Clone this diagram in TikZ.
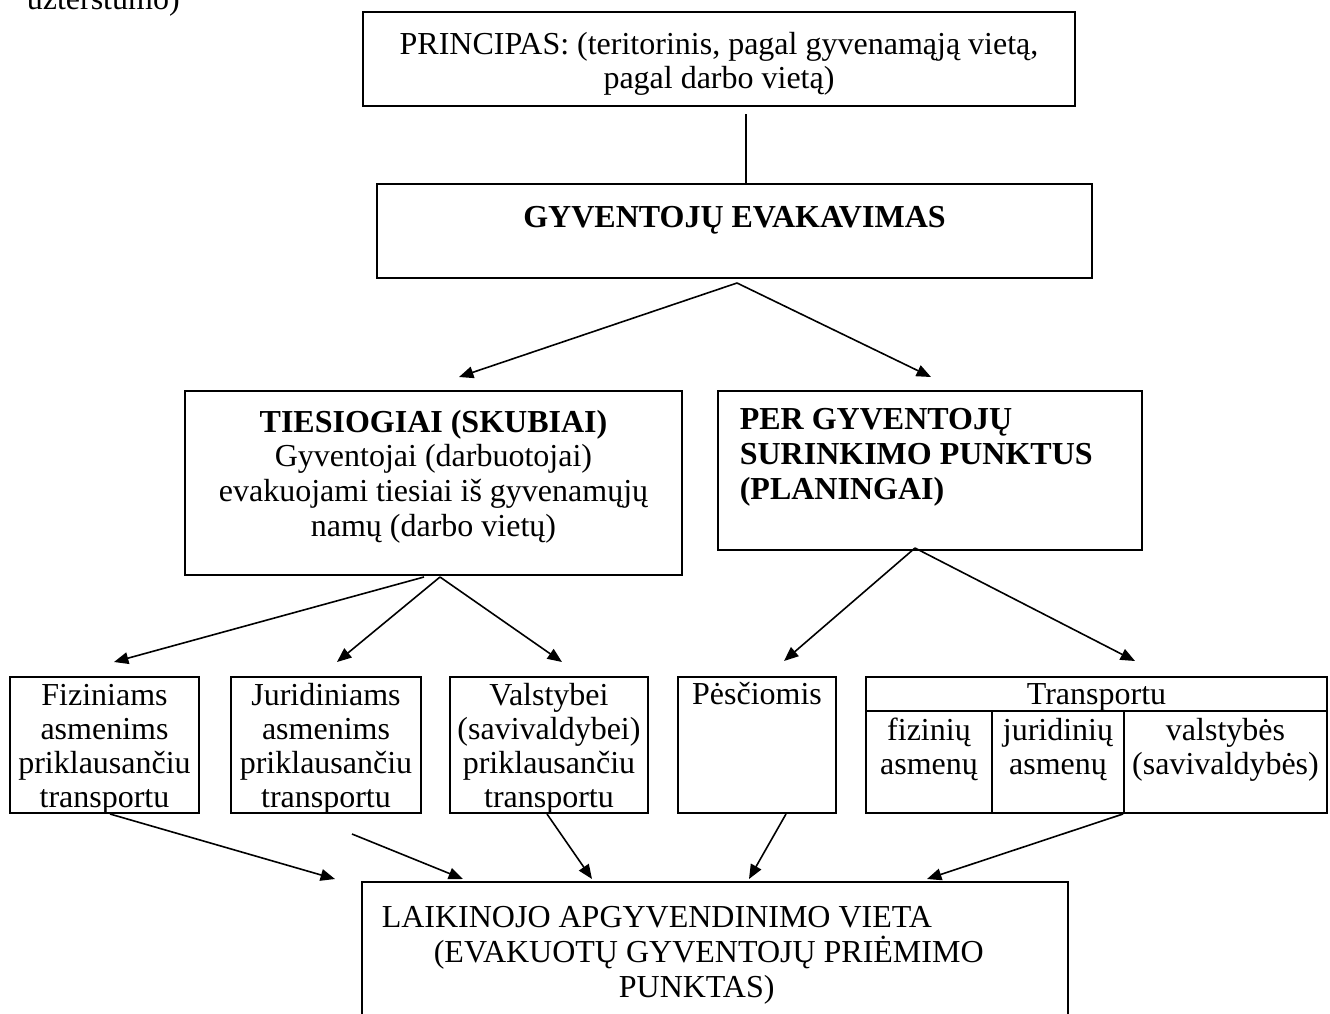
\documentclass[tikz,border=0pt]{standalone}
\usepackage{fontspec}
\setmainfont{Liberation Serif}
\usetikzlibrary{arrows.meta,positioning}

\begin{document}
\begin{tikzpicture}[x=0.375pt, y=-0.375pt, ->, >={Triangle[length=5.4pt,width=4.4pt]}, line width=0.6pt,
		font=\fontsize{12pt}{13pt}\selectfont,
		sz/.style 2 args={minimum width=#1*0.375pt, minimum height=#2*0.375pt}]
				\tikzstyle{box} = [draw, rectangle, line width=0.75pt, inner sep=0pt]
				\tikzstyle{txt} = [inner sep=0pt, align=center]
				\tikzstyle{tight} = [txt, font=\fontsize{12pt}{12.75pt}\selectfont]
				\fill[white,-] (0,0) rectangle (1330,1014);
				\useasboundingbox (0,0) rectangle (1330,1014);
				
				\node[anchor=base west, inner sep=0pt] (note) at (26,9) {užterštumo)};
				
				\node[box, sz={712}{94}] (princ) at (719,59) {};
				\node[txt, anchor=north] (princT) at (719,31) {PRINCIPAS: (teritorinis, pagal gyvenamąją vietą,\\pagal darbo vietą)};
				
				\node[box, sz={715}{94}] (gyv) at (734.5,231) {};
				\node[txt, anchor=base] (gyvT) at (734.5,227) {\textbf{GYVENTOJŲ EVAKAVIMAS}};
				
				\node[box, sz={497}{184}] (tiesi) at (433.5,483) {};
				\node[txt, anchor=north] (tiesiT) at (433.5,409) {\textbf{TIESIOGIAI (SKUBIAI)}\\Gyventojai (darbuotojai)\\evakuojami tiesiai iš gyvenamųjų\\namų (darbo vietų)};
				
				\node[box, sz={424}{159}] (per) at (930,470.5) {};
				\node[txt, align=left, anchor=north west] (perT) at (739,408) {\textbf{PER GYVENTOJŲ}\\\textbf{SURINKIMO PUNKTUS}\\\textbf{(PLANINGAI)}};
				
				\node[box, sz={189}{136}] (fiz) at (104.5,745) {};
				\node[tight, anchor=north] (fizT) at (104.5,684) {Fiziniams\\asmenims\\priklausančiu\\transportu};
				\node[box, sz={190}{136}] (jur) at (326,745) {};
				\node[tight, anchor=north] (jurT) at (326,682) {Juridiniams\\asmenims\\priklausančiu\\transportu};
				\node[box, sz={198}{136}] (val) at (549,745) {};
				\node[tight, anchor=north] (valT) at (549,682) {Valstybei\\(savivaldybei)\\priklausančiu\\transportu};
				
				\node[box, sz={158}{136}] (pes) at (757,745) {};
				\node[txt, anchor=base] (pesT) at (757,704) {Pėsčiomis};
				
				\node[box, sz={461}{136}] (transp) at (1096.5,745) {};
				\node[txt, anchor=base] (transpT) at (1096.5,704) {Transportu};
				\draw[-, line width=0.75pt] (866,711) -- (1327,711) (992,711) -- (992,813) (1124,711) -- (1124,813);
				\node[tight, anchor=north] (fizA) at (929,717) {fizinių\\asmenų};
				\node[tight, anchor=north] (jurA) at (1058,717) {juridinių\\asmenų};
				\node[tight, anchor=north] (valA) at (1225.5,717) {valstybės\\(savivaldybės)};
				
				\node[box, sz={706}{158}] (laik) at (715,961) {};
				\node[txt, align=left, anchor=north west] (laikT) at (381,906) {LAIKINOJO APGYVENDINIMO VIETA\\\hspace*{19.5pt}(EVAKUOTŲ GYVENTOJŲ PRIĖMIMO\\\hspace*{88.9pt}PUNKTAS)};
				
				\path ([shift={(27,7)}]princ.south) edge[-] ([shift={(11.5,0)}]gyv.north);
				\path ([shift={(2.5,4)}]gyv.south) edge ([shift={(25.5,-13)}]tiesi.north)
						  edge ([shift={(1,-13)}]per.north);
				\path ([shift={(-9.5,1)}]tiesi.south) edge ([shift={(9.5,-14)}]fiz.north)
					  ([shift={(6.5,1)}]tiesi.south) edge ([shift={(11,-14)}]jur.north)
						  edge ([shift={(13,-14)}]val.north)
					  ([shift={(-15,-3)}]per.south) edge ([shift={(27,-15)}]pes.north)
						  edge ([shift={(38.5,-15)}]transp.north);
				\path ([shift={(5.5,0)}]fiz.south) edge ([shift={(-26,-2)}]laik.north west)
					  ([shift={(26,20)}]jur.south) edge ([shift={(102,-2)}]laik.north west)
					  ([shift={(-2,0)}]val.south) edge ([shift={(231,-2)}]laik.north west)
					  ([shift={(29,0)}]pes.south) edge ([shift={(388,-2)}]laik.north west)
					  ([shift={(26.5,0)}]transp.south) edge ([shift={(566,-2)}]laik.north west);
			\end{tikzpicture}
\end{document}
